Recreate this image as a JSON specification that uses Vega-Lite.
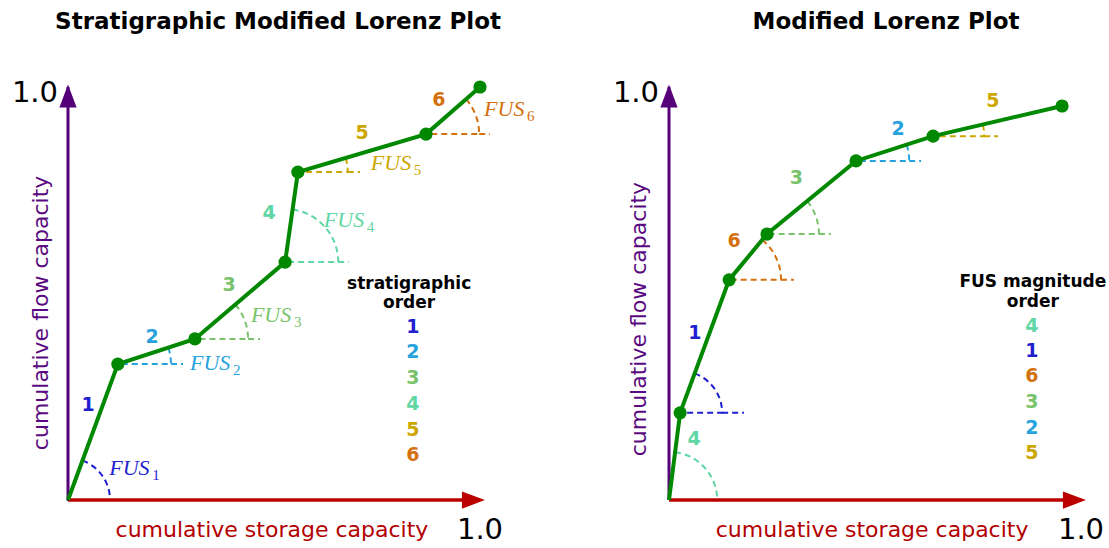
{
  "$schema": "https://vega.github.io/schema/vega-lite/v6.json",
  "padding": {"left": 11, "top": 11, "right": 0, "bottom": 0},
  "background": "white",
  "bounds": "flush",
  "spacing": 189,
  "config": {"view": {"stroke": null}},
  "datasets": {
    "path": [
      {"panel": "L", "ord": 0, "x": 0, "y": 0},
      {"panel": "L", "ord": 1, "x": 0.121, "y": 0.329},
      {"panel": "L", "ord": 2, "x": 0.308, "y": 0.390},
      {"panel": "L", "ord": 3, "x": 0.527, "y": 0.576},
      {"panel": "L", "ord": 4, "x": 0.558, "y": 0.794},
      {"panel": "L", "ord": 5, "x": 0.869, "y": 0.886},
      {"panel": "L", "ord": 6, "x": 1.0, "y": 1.0},
      {"panel": "R", "ord": 0, "x": 0, "y": 0},
      {"panel": "R", "ord": 1, "x": 0.027, "y": 0.211},
      {"panel": "R", "ord": 2, "x": 0.146, "y": 0.533},
      {"panel": "R", "ord": 3, "x": 0.238, "y": 0.644},
      {"panel": "R", "ord": 4, "x": 0.454, "y": 0.821},
      {"panel": "R", "ord": 5, "x": 0.641, "y": 0.881},
      {"panel": "R", "ord": 6, "x": 0.954, "y": 0.954}
    ],
    "fus": [
      {"panel": "L", "seg": "1", "cx": 0, "cy": 0, "angle": 69.8, "r": 0.102, "nx": 0.049, "ny": 0.230, "lx": 0.100, "ly": 0.061},
      {"panel": "L", "seg": "2", "cx": 0.121, "cy": 0.329, "angle": 18.1, "r": 0.129, "hx1": 0.250, "hx2": 0.279, "nx": 0.204, "ny": 0.395, "lx": 0.296, "ly": 0.315},
      {"panel": "L", "seg": "3", "cx": 0.308, "cy": 0.390, "angle": 40.4, "r": 0.129, "hx1": 0.437, "hx2": 0.466, "nx": 0.391, "ny": 0.521, "lx": 0.444, "ly": 0.431},
      {"panel": "L", "seg": "4", "cx": 0.527, "cy": 0.576, "angle": 81.9, "r": 0.129, "hx1": 0.656, "hx2": 0.682, "nx": 0.488, "ny": 0.695, "lx": 0.621, "ly": 0.661},
      {"panel": "L", "seg": "5", "cx": 0.558, "cy": 0.794, "angle": 16.5, "r": 0.121, "hx1": 0.679, "hx2": 0.709, "nx": 0.714, "ny": 0.889, "lx": 0.735, "ly": 0.799},
      {"panel": "L", "seg": "6", "cx": 0.869, "cy": 0.886, "angle": 41.1, "r": 0.129, "hx1": 0.998, "hx2": 1.024, "nx": 0.900, "ny": 0.969, "lx": 1.010, "ly": 0.930},
      {"panel": "R", "seg": "4", "cx": 0, "cy": 0, "angle": 82.8, "r": 0.117, "nx": 0.061, "ny": 0.148},
      {"panel": "R", "seg": "1", "cx": 0.027, "cy": 0.211, "angle": 69.8, "r": 0.102, "hx1": 0.129, "hx2": 0.182, "nx": 0.063, "ny": 0.404},
      {"panel": "R", "seg": "6", "cx": 0.146, "cy": 0.533, "angle": 50.4, "r": 0.126, "hx1": 0.272, "hx2": 0.303, "nx": 0.158, "ny": 0.627},
      {"panel": "R", "seg": "3", "cx": 0.238, "cy": 0.644, "angle": 39.4, "r": 0.126, "hx1": 0.364, "hx2": 0.393, "nx": 0.309, "ny": 0.780},
      {"panel": "R", "seg": "2", "cx": 0.454, "cy": 0.821, "angle": 17.9, "r": 0.129, "hx1": 0.583, "hx2": 0.612, "nx": 0.556, "ny": 0.898},
      {"panel": "R", "seg": "5", "cx": 0.641, "cy": 0.881, "angle": 13.1, "r": 0.124, "hx1": 0.765, "hx2": 0.799, "nx": 0.786, "ny": 0.966}
    ],
    "axes": [
      {"panel": "L", "dir": "x", "x0": 0, "y0": 0, "x1": 1.0, "y1": 0, "tx": 1.012, "ty": 0, "lx": 1.0, "ly": 0, "label": "1.0", "title": "cumulative storage capacity", "ttx": 0.495, "tty": 0},
      {"panel": "L", "dir": "y", "x0": 0, "y0": 0, "x1": 0, "y1": 1.0, "tx": 0, "ty": 1.006, "lx": 0, "ly": 1.0, "label": "1.0", "title": "cumulative flow capacity", "ttx": 0, "tty": 0.453},
      {"panel": "R", "dir": "x", "x0": 0, "y0": 0, "x1": 1.0, "y1": 0, "tx": 1.012, "ty": 0, "lx": 1.0, "ly": 0, "label": "1.0", "title": "cumulative storage capacity", "ttx": 0.493, "tty": 0},
      {"panel": "R", "dir": "y", "x0": 0, "y0": 0, "x1": 0, "y1": 1.0, "tx": 0, "ty": 1.006, "lx": 0, "ly": 1.0, "label": "1.0", "title": "cumulative flow capacity", "ttx": 0, "tty": 0.438}
    ],
    "legend": [
      {"panel": "L", "kind": "head", "text": "stratigraphic", "x": 0.828, "y": 0.523},
      {"panel": "L", "kind": "head", "text": "order", "x": 0.828, "y": 0.476},
      {"panel": "L", "kind": "item", "seg": "1", "x": 0.837, "y": 0.419},
      {"panel": "L", "kind": "item", "seg": "2", "x": 0.837, "y": 0.358},
      {"panel": "L", "kind": "item", "seg": "3", "x": 0.837, "y": 0.295},
      {"panel": "L", "kind": "item", "seg": "4", "x": 0.837, "y": 0.232},
      {"panel": "L", "kind": "item", "seg": "5", "x": 0.837, "y": 0.169},
      {"panel": "L", "kind": "item", "seg": "6", "x": 0.837, "y": 0.109},
      {"panel": "R", "kind": "head", "text": "FUS magnitude", "x": 0.883, "y": 0.527},
      {"panel": "R", "kind": "head", "text": "order", "x": 0.883, "y": 0.480},
      {"panel": "R", "kind": "item", "seg": "4", "x": 0.881, "y": 0.421},
      {"panel": "R", "kind": "item", "seg": "1", "x": 0.881, "y": 0.361},
      {"panel": "R", "kind": "item", "seg": "6", "x": 0.881, "y": 0.300},
      {"panel": "R", "kind": "item", "seg": "3", "x": 0.881, "y": 0.237},
      {"panel": "R", "kind": "item", "seg": "2", "x": 0.881, "y": 0.174},
      {"panel": "R", "kind": "item", "seg": "5", "x": 0.881, "y": 0.114}
    ]
  },
  "hconcat": [
    {
      "width": 412,
      "height": 413,
      "title": {"text": "Stratigraphic Modified Lorenz Plot", "font": "DejaVu Sans", "fontSize": 23, "fontWeight": "bold", "color": "black", "anchor": "middle", "frame": "group", "baseline": "alphabetic", "offset": 27, "dx": 4},
      "layer": [
        {
          "data": {"name": "fus"},
          "transform": [{"filter": "datum.panel == 'L'"}],
          "mark": {"type": "arc", "filled": false, "strokeWidth": 2, "strokeDash": [6, 4]},
          "encoding": {
            "x": {"field": "cx", "type": "quantitative", "scale": {"domain": [0, 1]}, "axis": null},
            "y": {"field": "cy", "type": "quantitative", "scale": {"domain": [0, 1]}, "axis": null},
            "theta": {"field": "angle", "type": "quantitative", "stack": false, "scale": {"domain": [0, 90], "range": [1.5707963, 0]}},
            "theta2": {"datum": 0},
            "radius": {"field": "r", "type": "quantitative", "scale": {"type": "linear", "domain": [0, 1], "range": [0, 412]}},
            "color": {"field": "seg", "type": "nominal", "legend": null, "scale": {"domain": ["1", "2", "3", "4", "5", "6"], "range": ["#1f1fcf", "#26a2dc", "#79c46b", "#5fd6a3", "#cca700", "#d4700e"]}}
          }
        },
        {
          "data": {"name": "fus"},
          "transform": [{"filter": "datum.panel == 'L' && isValid(datum.hx2)"}],
          "mark": {"type": "rule", "strokeWidth": 2, "strokeDash": [6, 4]},
          "encoding": {
            "x": {"field": "hx1", "type": "quantitative", "scale": {"domain": [0, 1]}, "axis": null},
            "x2": {"field": "hx2"},
            "y": {"field": "cy", "type": "quantitative", "scale": {"domain": [0, 1]}, "axis": null},
            "color": {"field": "seg", "type": "nominal", "legend": null, "scale": {"domain": ["1", "2", "3", "4", "5", "6"], "range": ["#1f1fcf", "#26a2dc", "#79c46b", "#5fd6a3", "#cca700", "#d4700e"]}}
          }
        },
        {
          "data": {"name": "axes"},
          "transform": [{"filter": "datum.panel == 'L' && datum.dir == 'x'"}],
          "mark": {"type": "rule", "color": "#bb0000", "strokeWidth": 3.5},
          "encoding": {
            "x": {"field": "x0", "type": "quantitative", "scale": {"domain": [0, 1]}, "axis": null},
            "x2": {"field": "x1"},
            "y": {"field": "y0", "type": "quantitative", "scale": {"domain": [0, 1]}, "axis": null},
            "y2": {"field": "y1"}
          }
        },
        {
          "data": {"name": "axes"},
          "transform": [{"filter": "datum.panel == 'L' && datum.dir == 'y'"}],
          "mark": {"type": "rule", "color": "#550078", "strokeWidth": 3},
          "encoding": {
            "x": {"field": "x0", "type": "quantitative", "scale": {"domain": [0, 1]}, "axis": null},
            "x2": {"field": "x1"},
            "y": {"field": "y0", "type": "quantitative", "scale": {"domain": [0, 1]}, "axis": null},
            "y2": {"field": "y1"}
          }
        },
        {
          "data": {"name": "axes"},
          "transform": [{"filter": "datum.panel == 'L' && datum.dir == 'x'"}],
          "mark": {"type": "point", "shape": "M0,0L-2,-0.75L-2,0.75Z", "size": 529, "filled": true, "color": "#bb0000", "opacity": 1},
          "encoding": {
            "x": {"field": "tx", "type": "quantitative", "scale": {"domain": [0, 1]}, "axis": null},
            "y": {"field": "ty", "type": "quantitative", "scale": {"domain": [0, 1]}, "axis": null}
          }
        },
        {
          "data": {"name": "axes"},
          "transform": [{"filter": "datum.panel == 'L' && datum.dir == 'y'"}],
          "mark": {"type": "point", "shape": "M0,0L-0.75,2L0.75,2Z", "size": 529, "filled": true, "color": "#550078", "opacity": 1},
          "encoding": {
            "x": {"field": "tx", "type": "quantitative", "scale": {"domain": [0, 1]}, "axis": null},
            "y": {"field": "ty", "type": "quantitative", "scale": {"domain": [0, 1]}, "axis": null}
          }
        },
        {
          "data": {"name": "axes"},
          "transform": [{"filter": "datum.panel == 'L' && datum.dir == 'x'"}],
          "mark": {"type": "text", "font": "DejaVu Sans", "fontSize": 29, "color": "black", "align": "center", "baseline": "top", "dy": 16},
          "encoding": {
            "x": {"field": "lx", "type": "quantitative", "scale": {"domain": [0, 1]}, "axis": null},
            "y": {"field": "ly", "type": "quantitative", "scale": {"domain": [0, 1]}, "axis": null},
            "text": {"field": "label"}
          }
        },
        {
          "data": {"name": "axes"},
          "transform": [{"filter": "datum.panel == 'L' && datum.dir == 'y'"}],
          "mark": {"type": "text", "font": "DejaVu Sans", "fontSize": 29, "color": "black", "align": "right", "baseline": "middle", "dx": -10, "dy": 6},
          "encoding": {
            "x": {"field": "lx", "type": "quantitative", "scale": {"domain": [0, 1]}, "axis": null},
            "y": {"field": "ly", "type": "quantitative", "scale": {"domain": [0, 1]}, "axis": null},
            "text": {"field": "label"}
          }
        },
        {
          "data": {"name": "axes"},
          "transform": [{"filter": "datum.panel == 'L' && datum.dir == 'x'"}],
          "mark": {"type": "text", "font": "DejaVu Sans", "fontSize": 22, "color": "#b30000", "align": "center", "baseline": "alphabetic", "dy": 37},
          "encoding": {
            "x": {"field": "ttx", "type": "quantitative", "scale": {"domain": [0, 1]}, "axis": null},
            "y": {"field": "tty", "type": "quantitative", "scale": {"domain": [0, 1]}, "axis": null},
            "text": {"field": "title"}
          }
        },
        {
          "data": {"name": "axes"},
          "transform": [{"filter": "datum.panel == 'L' && datum.dir == 'y'"}],
          "mark": {"type": "text", "font": "DejaVu Sans", "fontSize": 22, "color": "#5a0a80", "align": "center", "baseline": "alphabetic", "angle": 270, "dy": -20},
          "encoding": {
            "x": {"field": "ttx", "type": "quantitative", "scale": {"domain": [0, 1]}, "axis": null},
            "y": {"field": "tty", "type": "quantitative", "scale": {"domain": [0, 1]}, "axis": null},
            "text": {"field": "title"}
          }
        },
        {
          "data": {"name": "path"},
          "transform": [{"filter": "datum.panel == 'L'"}],
          "mark": {"type": "line", "color": "#008800", "strokeWidth": 4},
          "encoding": {
            "x": {"field": "x", "type": "quantitative", "scale": {"domain": [0, 1]}, "axis": null},
            "y": {"field": "y", "type": "quantitative", "scale": {"domain": [0, 1]}, "axis": null},
            "order": {"field": "ord", "type": "quantitative"}
          }
        },
        {
          "data": {"name": "path"},
          "transform": [{"filter": "datum.panel == 'L' && datum.ord > 0"}],
          "mark": {"type": "circle", "color": "#008800", "size": 175, "opacity": 1},
          "encoding": {
            "x": {"field": "x", "type": "quantitative", "scale": {"domain": [0, 1]}, "axis": null},
            "y": {"field": "y", "type": "quantitative", "scale": {"domain": [0, 1]}, "axis": null}
          }
        },
        {
          "data": {"name": "fus"},
          "transform": [{"filter": "datum.panel == 'L'"}],
          "mark": {"type": "text", "font": "DejaVu Sans", "fontSize": 19, "fontWeight": "bold", "align": "center", "baseline": "middle"},
          "encoding": {
            "x": {"field": "nx", "type": "quantitative", "scale": {"domain": [0, 1]}, "axis": null},
            "y": {"field": "ny", "type": "quantitative", "scale": {"domain": [0, 1]}, "axis": null},
            "text": {"field": "seg"},
            "color": {"field": "seg", "type": "nominal", "legend": null, "scale": {"domain": ["1", "2", "3", "4", "5", "6"], "range": ["#1f1fcf", "#26a2dc", "#79c46b", "#5fd6a3", "#cca700", "#d4700e"]}}
          }
        },
        {
          "data": {"name": "fus"},
          "transform": [{"filter": "datum.panel == 'L'"}],
          "mark": {"type": "text", "text": "FUS", "font": "Liberation Serif", "fontStyle": "italic", "fontSize": 22, "align": "left", "baseline": "alphabetic"},
          "encoding": {
            "x": {"field": "lx", "type": "quantitative", "scale": {"domain": [0, 1]}, "axis": null},
            "y": {"field": "ly", "type": "quantitative", "scale": {"domain": [0, 1]}, "axis": null},
            "color": {"field": "seg", "type": "nominal", "legend": null, "scale": {"domain": ["1", "2", "3", "4", "5", "6"], "range": ["#1f1fcf", "#26a2dc", "#79c46b", "#5fd6a3", "#cca700", "#d4700e"]}}
          }
        },
        {
          "data": {"name": "fus"},
          "transform": [{"filter": "datum.panel == 'L'"}],
          "mark": {"type": "text", "font": "Liberation Serif", "fontSize": 15, "align": "left", "baseline": "alphabetic", "dx": 43, "dy": 5},
          "encoding": {
            "x": {"field": "lx", "type": "quantitative", "scale": {"domain": [0, 1]}, "axis": null},
            "y": {"field": "ly", "type": "quantitative", "scale": {"domain": [0, 1]}, "axis": null},
            "text": {"field": "seg"},
            "color": {"field": "seg", "type": "nominal", "legend": null, "scale": {"domain": ["1", "2", "3", "4", "5", "6"], "range": ["#1f1fcf", "#26a2dc", "#79c46b", "#5fd6a3", "#cca700", "#d4700e"]}}
          }
        },
        {
          "data": {"name": "legend"},
          "transform": [{"filter": "datum.panel == 'L' && datum.kind == 'head'"}],
          "mark": {"type": "text", "font": "DejaVu Sans", "fontSize": 17, "fontWeight": "bold", "color": "black", "align": "center", "baseline": "middle"},
          "encoding": {
            "x": {"field": "x", "type": "quantitative", "scale": {"domain": [0, 1]}, "axis": null},
            "y": {"field": "y", "type": "quantitative", "scale": {"domain": [0, 1]}, "axis": null},
            "text": {"field": "text"}
          }
        },
        {
          "data": {"name": "legend"},
          "transform": [{"filter": "datum.panel == 'L' && datum.kind == 'item'"}],
          "mark": {"type": "text", "font": "DejaVu Sans", "fontSize": 19, "fontWeight": "bold", "align": "center", "baseline": "middle"},
          "encoding": {
            "x": {"field": "x", "type": "quantitative", "scale": {"domain": [0, 1]}, "axis": null},
            "y": {"field": "y", "type": "quantitative", "scale": {"domain": [0, 1]}, "axis": null},
            "text": {"field": "seg"},
            "color": {"field": "seg", "type": "nominal", "legend": null, "scale": {"domain": ["1", "2", "3", "4", "5", "6"], "range": ["#1f1fcf", "#26a2dc", "#79c46b", "#5fd6a3", "#cca700", "#d4700e"]}}
          }
        }
      ]
    },
    {
      "width": 412,
      "height": 413,
      "title": {"text": "Modified Lorenz Plot", "font": "DejaVu Sans", "fontSize": 23, "fontWeight": "bold", "color": "black", "anchor": "middle", "frame": "group", "baseline": "alphabetic", "offset": 27, "dx": 11},
      "layer": [
        {
          "data": {"name": "fus"},
          "transform": [{"filter": "datum.panel == 'R'"}],
          "mark": {"type": "arc", "filled": false, "strokeWidth": 2, "strokeDash": [6, 4]},
          "encoding": {
            "x": {"field": "cx", "type": "quantitative", "scale": {"domain": [0, 1]}, "axis": null},
            "y": {"field": "cy", "type": "quantitative", "scale": {"domain": [0, 1]}, "axis": null},
            "theta": {"field": "angle", "type": "quantitative", "stack": false, "scale": {"domain": [0, 90], "range": [1.5707963, 0]}},
            "theta2": {"datum": 0},
            "radius": {"field": "r", "type": "quantitative", "scale": {"type": "linear", "domain": [0, 1], "range": [0, 412]}},
            "color": {"field": "seg", "type": "nominal", "legend": null, "scale": {"domain": ["1", "2", "3", "4", "5", "6"], "range": ["#1f1fcf", "#26a2dc", "#79c46b", "#5fd6a3", "#cca700", "#d4700e"]}}
          }
        },
        {
          "data": {"name": "fus"},
          "transform": [{"filter": "datum.panel == 'R' && isValid(datum.hx2)"}],
          "mark": {"type": "rule", "strokeWidth": 2, "strokeDash": [6, 4]},
          "encoding": {
            "x": {"field": "hx1", "type": "quantitative", "scale": {"domain": [0, 1]}, "axis": null},
            "x2": {"field": "hx2"},
            "y": {"field": "cy", "type": "quantitative", "scale": {"domain": [0, 1]}, "axis": null},
            "color": {"field": "seg", "type": "nominal", "legend": null, "scale": {"domain": ["1", "2", "3", "4", "5", "6"], "range": ["#1f1fcf", "#26a2dc", "#79c46b", "#5fd6a3", "#cca700", "#d4700e"]}}
          }
        },
        {
          "data": {"name": "axes"},
          "transform": [{"filter": "datum.panel == 'R' && datum.dir == 'x'"}],
          "mark": {"type": "rule", "color": "#bb0000", "strokeWidth": 3.5},
          "encoding": {
            "x": {"field": "x0", "type": "quantitative", "scale": {"domain": [0, 1]}, "axis": null},
            "x2": {"field": "x1"},
            "y": {"field": "y0", "type": "quantitative", "scale": {"domain": [0, 1]}, "axis": null},
            "y2": {"field": "y1"}
          }
        },
        {
          "data": {"name": "axes"},
          "transform": [{"filter": "datum.panel == 'R' && datum.dir == 'y'"}],
          "mark": {"type": "rule", "color": "#550078", "strokeWidth": 3},
          "encoding": {
            "x": {"field": "x0", "type": "quantitative", "scale": {"domain": [0, 1]}, "axis": null},
            "x2": {"field": "x1"},
            "y": {"field": "y0", "type": "quantitative", "scale": {"domain": [0, 1]}, "axis": null},
            "y2": {"field": "y1"}
          }
        },
        {
          "data": {"name": "axes"},
          "transform": [{"filter": "datum.panel == 'R' && datum.dir == 'x'"}],
          "mark": {"type": "point", "shape": "M0,0L-2,-0.75L-2,0.75Z", "size": 529, "filled": true, "color": "#bb0000", "opacity": 1},
          "encoding": {
            "x": {"field": "tx", "type": "quantitative", "scale": {"domain": [0, 1]}, "axis": null},
            "y": {"field": "ty", "type": "quantitative", "scale": {"domain": [0, 1]}, "axis": null}
          }
        },
        {
          "data": {"name": "axes"},
          "transform": [{"filter": "datum.panel == 'R' && datum.dir == 'y'"}],
          "mark": {"type": "point", "shape": "M0,0L-0.75,2L0.75,2Z", "size": 529, "filled": true, "color": "#550078", "opacity": 1},
          "encoding": {
            "x": {"field": "tx", "type": "quantitative", "scale": {"domain": [0, 1]}, "axis": null},
            "y": {"field": "ty", "type": "quantitative", "scale": {"domain": [0, 1]}, "axis": null}
          }
        },
        {
          "data": {"name": "axes"},
          "transform": [{"filter": "datum.panel == 'R' && datum.dir == 'x'"}],
          "mark": {"type": "text", "font": "DejaVu Sans", "fontSize": 29, "color": "black", "align": "center", "baseline": "top", "dy": 16},
          "encoding": {
            "x": {"field": "lx", "type": "quantitative", "scale": {"domain": [0, 1]}, "axis": null},
            "y": {"field": "ly", "type": "quantitative", "scale": {"domain": [0, 1]}, "axis": null},
            "text": {"field": "label"}
          }
        },
        {
          "data": {"name": "axes"},
          "transform": [{"filter": "datum.panel == 'R' && datum.dir == 'y'"}],
          "mark": {"type": "text", "font": "DejaVu Sans", "fontSize": 29, "color": "black", "align": "right", "baseline": "middle", "dx": -10, "dy": 6},
          "encoding": {
            "x": {"field": "lx", "type": "quantitative", "scale": {"domain": [0, 1]}, "axis": null},
            "y": {"field": "ly", "type": "quantitative", "scale": {"domain": [0, 1]}, "axis": null},
            "text": {"field": "label"}
          }
        },
        {
          "data": {"name": "axes"},
          "transform": [{"filter": "datum.panel == 'R' && datum.dir == 'x'"}],
          "mark": {"type": "text", "font": "DejaVu Sans", "fontSize": 22, "color": "#b30000", "align": "center", "baseline": "alphabetic", "dy": 37},
          "encoding": {
            "x": {"field": "ttx", "type": "quantitative", "scale": {"domain": [0, 1]}, "axis": null},
            "y": {"field": "tty", "type": "quantitative", "scale": {"domain": [0, 1]}, "axis": null},
            "text": {"field": "title"}
          }
        },
        {
          "data": {"name": "axes"},
          "transform": [{"filter": "datum.panel == 'R' && datum.dir == 'y'"}],
          "mark": {"type": "text", "font": "DejaVu Sans", "fontSize": 22, "color": "#5a0a80", "align": "center", "baseline": "alphabetic", "angle": 270, "dy": -23},
          "encoding": {
            "x": {"field": "ttx", "type": "quantitative", "scale": {"domain": [0, 1]}, "axis": null},
            "y": {"field": "tty", "type": "quantitative", "scale": {"domain": [0, 1]}, "axis": null},
            "text": {"field": "title"}
          }
        },
        {
          "data": {"name": "path"},
          "transform": [{"filter": "datum.panel == 'R'"}],
          "mark": {"type": "line", "color": "#008800", "strokeWidth": 4},
          "encoding": {
            "x": {"field": "x", "type": "quantitative", "scale": {"domain": [0, 1]}, "axis": null},
            "y": {"field": "y", "type": "quantitative", "scale": {"domain": [0, 1]}, "axis": null},
            "order": {"field": "ord", "type": "quantitative"}
          }
        },
        {
          "data": {"name": "path"},
          "transform": [{"filter": "datum.panel == 'R' && datum.ord > 0"}],
          "mark": {"type": "circle", "color": "#008800", "size": 175, "opacity": 1},
          "encoding": {
            "x": {"field": "x", "type": "quantitative", "scale": {"domain": [0, 1]}, "axis": null},
            "y": {"field": "y", "type": "quantitative", "scale": {"domain": [0, 1]}, "axis": null}
          }
        },
        {
          "data": {"name": "fus"},
          "transform": [{"filter": "datum.panel == 'R'"}],
          "mark": {"type": "text", "font": "DejaVu Sans", "fontSize": 19, "fontWeight": "bold", "align": "center", "baseline": "middle"},
          "encoding": {
            "x": {"field": "nx", "type": "quantitative", "scale": {"domain": [0, 1]}, "axis": null},
            "y": {"field": "ny", "type": "quantitative", "scale": {"domain": [0, 1]}, "axis": null},
            "text": {"field": "seg"},
            "color": {"field": "seg", "type": "nominal", "legend": null, "scale": {"domain": ["1", "2", "3", "4", "5", "6"], "range": ["#1f1fcf", "#26a2dc", "#79c46b", "#5fd6a3", "#cca700", "#d4700e"]}}
          }
        },
        {
          "data": {"name": "legend"},
          "transform": [{"filter": "datum.panel == 'R' && datum.kind == 'head'"}],
          "mark": {"type": "text", "font": "DejaVu Sans", "fontSize": 17, "fontWeight": "bold", "color": "black", "align": "center", "baseline": "middle"},
          "encoding": {
            "x": {"field": "x", "type": "quantitative", "scale": {"domain": [0, 1]}, "axis": null},
            "y": {"field": "y", "type": "quantitative", "scale": {"domain": [0, 1]}, "axis": null},
            "text": {"field": "text"}
          }
        },
        {
          "data": {"name": "legend"},
          "transform": [{"filter": "datum.panel == 'R' && datum.kind == 'item'"}],
          "mark": {"type": "text", "font": "DejaVu Sans", "fontSize": 19, "fontWeight": "bold", "align": "center", "baseline": "middle"},
          "encoding": {
            "x": {"field": "x", "type": "quantitative", "scale": {"domain": [0, 1]}, "axis": null},
            "y": {"field": "y", "type": "quantitative", "scale": {"domain": [0, 1]}, "axis": null},
            "text": {"field": "seg"},
            "color": {"field": "seg", "type": "nominal", "legend": null, "scale": {"domain": ["1", "2", "3", "4", "5", "6"], "range": ["#1f1fcf", "#26a2dc", "#79c46b", "#5fd6a3", "#cca700", "#d4700e"]}}
          }
        }
      ]
    }
  ]
}
